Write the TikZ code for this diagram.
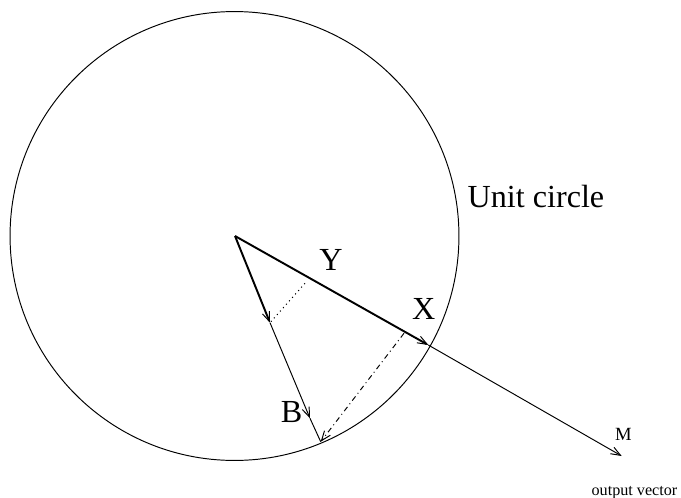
\documentclass[tikz,border=0pt]{standalone}
\usepackage{fontspec}
\setmainfont{Liberation Serif}
\usetikzlibrary{arrows.meta}

\begin{document}
\begin{tikzpicture}[
    x=0.02cm, y=-0.02cm,
    every node/.style={inner sep=0pt},
    biglabel/.style={font=\fontsize{18.3}{22}\selectfont, anchor=base},
    smalllabel/.style={font=\fontsize{10.6}{13}\selectfont, anchor=base},
    vec/.style={->, line width=1.1pt},
    thin vec/.style={->, line width=0.55pt},
    >={Straight Barb[length=5.5pt, width=4.2pt, line width=0.55pt]},
  ]
  \useasboundingbox (0,0) rectangle (681,498);

  % Unit circle
  \draw[line width=0.55pt] (234.5,236) circle[radius=4.49cm];
  \node[biglabel, anchor=base west] (uc) at (467.3,207.3) {Unit circle};

  % Points
  \coordinate (o) at (235,236);
  \coordinate (x) at (428.3,345);
  \coordinate (m) at (621.7,456);
  \coordinate (y) at (270,322.7);
  \coordinate (b) at (310,418.3);
  \coordinate (c) at (320.7,441.7);
  \coordinate (py) at (305,283.3);
  \coordinate (px) at (404,333.3);

  % Vectors
  \draw[vec] (o) -- (x);
  \draw[thin vec] (x) -- (m);
  \draw[vec] (o) -- (y);
  \draw[thin vec] (y) -- (b);
  \draw[line width=0.55pt] (b) -- (c);

  % Projections
  \draw[dotted, line width=0.6pt] (py) -- (y);
  \draw[thin vec, dash dot] (px) -- (c);

  % Labels
  \node[biglabel] (ylab) at (331,270) {Y};
  \node[biglabel] (xlab) at (423.7,319) {X};
  \node[biglabel] (blab) at (291.7,422.3) {B};
  \node[smalllabel] (mlab) at (623.3,440.7) {M};
  \node[font=\fontsize{9.2}{11}\selectfont, anchor=base] (out) at (634.5,495) {output vector};
\end{tikzpicture}
\end{document}
